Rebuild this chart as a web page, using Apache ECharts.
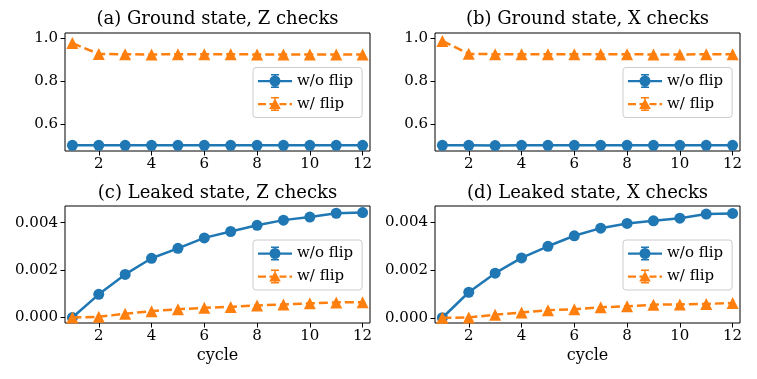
<!DOCTYPE html>
<html>
<head>
<meta charset="utf-8">
<script src="https://cdn.jsdelivr.net/npm/echarts@6/dist/echarts.min.js"></script>
<style>
html,body{margin:0;padding:0;background:#fff;}
#chart{width:757px;height:379px;}
</style>
</head>
<body>
<div id="chart"></div>
<script>
// ---- data ----
const cycles = [1, 2, 3, 4, 5, 6, 7, 8, 9, 10, 11, 12];
const gsZ_noflip = [0.5, 0.5, 0.5, 0.5, 0.5, 0.5, 0.5, 0.5, 0.5, 0.5, 0.5, 0.5];
const gsZ_flip = [0.978, 0.927, 0.926, 0.925, 0.926, 0.926, 0.926, 0.925, 0.925, 0.925, 0.925, 0.925];
const gsX_noflip = [0.5, 0.5, 0.499, 0.5, 0.5, 0.5, 0.5, 0.5, 0.5, 0.5, 0.5, 0.5];
const gsX_flip = [0.988, 0.928, 0.926, 0.926, 0.926, 0.926, 0.926, 0.926, 0.925, 0.925, 0.926, 0.926];
const lkZ_noflip = [0, 0.00098, 0.00182, 0.0025, 0.00292, 0.00336, 0.00363, 0.00389, 0.00411, 0.00424, 0.0044, 0.00443];
const lkZ_flip = [0, 0.00003, 0.00016, 0.00027, 0.00035, 0.00041, 0.00045, 0.00051, 0.00055, 0.0006, 0.00064, 0.00065];
const lkX_noflip = [0, 0.00107, 0.00187, 0.00251, 0.003, 0.00344, 0.00376, 0.00396, 0.00407, 0.00418, 0.00435, 0.00438];
const lkX_flip = [0, 0.00001, 0.00013, 0.00022, 0.00032, 0.00036, 0.00044, 0.00048, 0.00055, 0.00056, 0.00058, 0.00062];
const xTicks = [2, 4, 6, 8, 10, 12];
const gsTicks = [0.6, 0.8, 1.0];
const lkTicks = [0, 0.002, 0.004];
const titles = ['(a) Ground state, Z checks', '(b) Ground state, X checks', '(c) Leaked state, Z checks', '(d) Leaked state, X checks'];
const seriesNames = ['w/o flip', 'w/ flip'];

// ---- style ----
const FONT = 'DejaVu Serif';
const BLUE = '#1f77b4';
const ORANGE = '#ff7f0e';
const grids = [
  {left: 65, top: 33, width: 305, height: 118},
  {left: 435, top: 33, width: 305, height: 118},
  {left: 65, top: 206, width: 305, height: 117},
  {left: 435, top: 206, width: 305, height: 117}
];
const yRanges = [[0.4734, 1.0253], [0.4734, 1.0253], [-0.00023, 0.004706], [-0.00022, 0.00469]];
const panels = [
  [gsZ_noflip, gsZ_flip, gsTicks, 1],
  [gsX_noflip, gsX_flip, gsTicks, 1],
  [lkZ_noflip, lkZ_flip, lkTicks, 3],
  [lkX_noflip, lkX_flip, lkTicks, 3]
];

const iconBlue = 'path://M0 6H34V8.2H0Z M16.25 0H17.75V14H16.25Z M13 0H21V1.5H13Z M13 12.5H21V14H13Z M22.5 7A5.5 5.5 0 1 1 11.5 7A5.5 5.5 0 1 1 22.5 7Z';
const iconOrange = 'path://M0 6H8V8.2H0Z M11.5 6H18V8.2H11.5Z M21.5 6H28.5V8.2H21.5Z M31.5 6H34V8.2H31.5Z M16.25 0H17.75V14H16.25Z M13 0H21V1.5H13Z M13 12.5H21V14H13Z M17 1.6L22.8 12H11.2Z';

const pair = (ys) => cycles.map((c, i) => [c, ys[i]]);

const option = {
  animation: false,
  backgroundColor: '#fff',
  grid: [],
  xAxis: [],
  yAxis: [],
  series: [],
  legend: [],
  graphic: []
};

grids.forEach((g, i) => {
  option.grid.push(Object.assign({show: true, borderColor: '#000', borderWidth: 1, backgroundColor: 'transparent'}, g));
  option.xAxis.push({
    type: 'value', gridIndex: i, min: 0.72, max: 12.28,
    axisLine: {show: false, onZero: false},
    splitLine: {show: false},
    axisTick: {show: true, length: 4.5, lineStyle: {color: '#000', width: 1}, customValues: xTicks},
    axisLabel: {color: '#000', fontFamily: FONT, fontSize: 15, margin: 6, customValues: xTicks,
      formatter: (v) => String(Math.round(v))},
    name: i >= 2 ? 'cycle' : '',
    nameLocation: 'middle', nameGap: 25,
    nameTextStyle: {color: '#000', fontFamily: FONT, fontSize: 16}
  });
  const dec = panels[i][3];
  option.yAxis.push({
    type: 'value', gridIndex: i, min: yRanges[i][0], max: yRanges[i][1],
    axisLine: {show: false, onZero: false},
    splitLine: {show: false},
    axisTick: {show: true, length: 4.5, lineStyle: {color: '#000', width: 1}, customValues: panels[i][2]},
    axisLabel: {color: '#000', fontFamily: FONT, fontSize: 15, margin: 7, customValues: panels[i][2],
      formatter: (v) => Number(v).toFixed(dec)}
  });
  option.series.push({
    name: seriesNames[0], type: 'line', xAxisIndex: i, yAxisIndex: i,
    data: pair(panels[i][0]),
    symbol: 'circle', symbolSize: 11,
    lineStyle: {color: BLUE, width: 2.5},
    itemStyle: {color: BLUE, borderWidth: 0},
    z: 2
  });
  option.series.push({
    name: seriesNames[1], type: 'line', xAxisIndex: i, yAxisIndex: i,
    data: pair(panels[i][1]),
    symbol: 'triangle', symbolSize: 12,
    lineStyle: {color: ORANGE, width: 2.5, type: [9, 4]},
    itemStyle: {color: ORANGE, borderWidth: 0},
    z: 3
  });
  const legTop = g.top + g.height / 2 - 24.5;
  option.legend.push({
    orient: 'vertical',
    left: g.left + 188, top: legTop,
    itemWidth: 34, itemHeight: 14, itemGap: 8,
    padding: [6, 9, 6, 5],
    backgroundColor: 'rgba(255,255,255,0.8)',
    borderColor: '#cccccc', borderWidth: 1, borderRadius: 3,
    selectedMode: false,
    itemStyle: {borderWidth: 0},
    textStyle: {color: '#000', fontFamily: FONT, fontSize: 15},
    data: [
      {name: seriesNames[0], icon: iconBlue},
      {name: seriesNames[1], icon: iconOrange}
    ]
  });
  option.graphic.push({
    type: 'text',
    x: g.left + g.width / 2,
    y: i < 2 ? 19 : 193,
    style: {text: titles[i], fill: '#000', font: '18px "' + FONT + '"', textAlign: 'center', textVerticalAlign: 'middle'}
  });
});

const chart = echarts.init(document.getElementById('chart'), null, {renderer: 'canvas'});
chart.setOption(option);
</script>
</body>
</html>
